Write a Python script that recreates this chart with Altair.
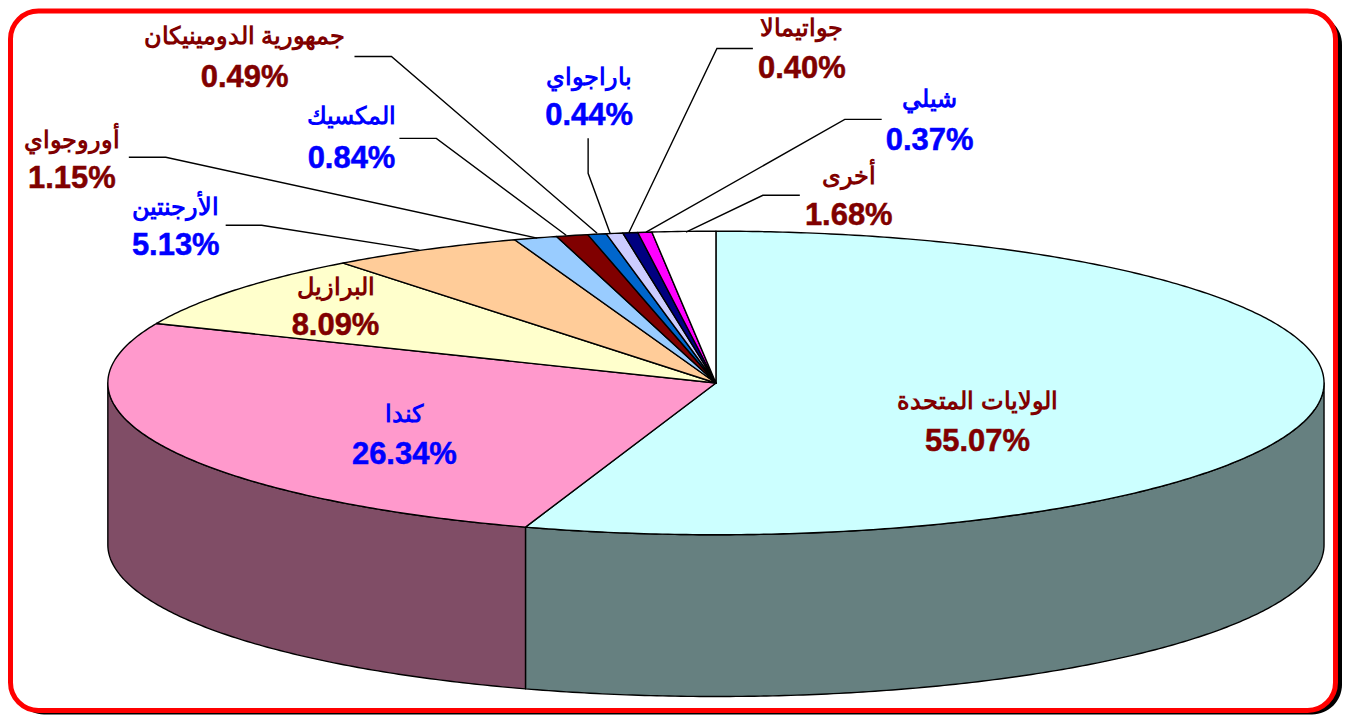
import math
import altair as alt
import pandas as pd

# Data
NAMES = ["الولايات المتحدة", "كندا", "البرازيل", "الأرجنتين", "أوروجواي", "المكسيك",
         "جمهورية الدومينيكان", "باراجواي", "جواتيمالا", "شيلي", "أخرى"]
SHARES = [55.07, 26.34, 8.09, 5.13, 1.15, 0.84, 0.49, 0.44, 0.40, 0.37, 1.68]

# Styles
TOP_COLORS = ["#CCFFFF", "#FF99CC", "#FFFFCC", "#FFCC99", "#99CCFF", "#800000",
              "#0066CC", "#CCCCFF", "#000080", "#FF00FF", "#FFFFFF"]
SIDE_COLORS = {0: "#668080", 1: "#804D66"}
TEXT_COLORS = ["#800000", "#0000FF", "#800000", "#0000FF", "#800000", "#0000FF",
               "#800000", "#0000FF", "#800000", "#0000FF", "#800000"]

# Layout (picture pixels)
CX, CY, RX, RY, DEPTH = 717, 383, 609, 152, 162
LABEL_POS = [(979, 402, 442), (405, 415, 455), (336, 288, 326), (176, 208, 246), (72, 141, 179),
             (352, 117, 159), (245, 37, 78), (590, 78, 116), (803, 29, 69), (931, 100, 141), (850, 177, 216)]
LEADERS = {
    3: [(226, 225), (262, 225), (420, 250)],
    4: [(129, 157), (166, 157), (538, 238)],
    5: [(400, 138), (437, 138), (567, 235)],
    6: [(355, 56), (392, 56), (598, 233)],
    7: [(589, 138), (589, 173), (611, 233)],
    8: [(754, 48), (718, 48), (630, 232)],
    9: [(883, 119), (846, 119), (647, 232)],
    10: [(801, 195), (764, 195), (687, 232)],
}

X0, Y0, X1, Y1 = 8, 8, 1346, 715
sx = alt.Scale(domain=[X0, X1], nice=False, zero=False)
sy = alt.Scale(domain=[Y0, Y1], nice=False, zero=False, reverse=True)
X = lambda f: alt.X(f, scale=sx, axis=None)
Y = lambda f: alt.Y(f, scale=sy, axis=None)


def pt(t, dy=0.0):
    return [CX + RX * math.sin(t), CY - RY * math.cos(t) + dy]


def arc(t0, t1, dy=0.0):
    n = max(2, int(abs(t1 - t0) / 0.01))
    return [pt(t0 + (t1 - t0) * i / n, dy) for i in range(n + 1)]


edges = [0.0]
for s in SHARES:
    edges.append(edges[-1] + s / sum(SHARES) * 2 * math.pi)


def feature(ring, fill):
    return {"type": "Feature", "properties": {"fill": fill},
            "geometry": {"type": "Polygon", "coordinates": [ring + [ring[0]]]}}


tops, sides = [], []
for i, color in enumerate(TOP_COLORS):
    tops.append(feature([[CX, CY]] + arc(edges[i], edges[i + 1]), color))
    lo, hi = max(edges[i], math.pi / 2), min(edges[i + 1], 3 * math.pi / 2)
    if hi > lo and i in SIDE_COLORS:
        sides.append(feature(arc(lo, hi) + arc(hi, lo, DEPTH), SIDE_COLORS[i]))

proj = alt.Projection(type="identity", scale=1, translate=[-X0, -Y0])


def shapes(features, width):
    return alt.Chart(alt.Data(values=features)).mark_geoshape(
        stroke="black", strokeWidth=width, strokeJoin="round"
    ).encode(fill=alt.Fill("properties.fill:N", scale=None)).project(**proj.to_dict())


frame_df = pd.DataFrame([{"x": 10.5, "x2": 1337.5, "y": 10.5, "y2": 711}])
shadow_df = pd.DataFrame([{"x": 14, "x2": 1344, "y": 14, "y2": 715}])
shadow = alt.Chart(shadow_df).mark_rect(fill="black", cornerRadius=30).encode(
    x=X("x:Q"), x2="x2:Q", y=Y("y:Q"), y2="y2:Q")
frame = alt.Chart(frame_df).mark_rect(fill="white", stroke="#FF0000", strokeWidth=5, cornerRadius=28).encode(
    x=X("x:Q"), x2="x2:Q", y=Y("y:Q"), y2="y2:Q")

lead_rows = [{"k": k, "o": j, "x": p[0], "y": p[1]} for k, pts in LEADERS.items() for j, p in enumerate(pts)]
leaders = alt.Chart(pd.DataFrame(lead_rows)).mark_line(color="black", strokeWidth=1.4).encode(
    x=X("x:Q"), y=Y("y:Q"), detail="k:N", order="o:Q")

text_df = pd.DataFrame({
    "name": NAMES,
    "pct": [f"{s:.2f}%" for s in SHARES],
    "color": TEXT_COLORS,
    "x": [p[0] for p in LABEL_POS],
    "yn": [p[1] for p in LABEL_POS],
    "yp": [p[2] for p in LABEL_POS],
})
FONT = "Liberation Sans"
names = alt.Chart(text_df).mark_text(font=FONT, fontWeight="bold", fontSize=24, baseline="middle", align="center").encode(
    x=X("x:Q"), y=Y("yn:Q"), text="name:N", color=alt.Color("color:N", scale=None))
pcts = alt.Chart(text_df).mark_text(font=FONT, fontWeight="bold", fontSize=31, strokeWidth=0.5, baseline="middle", align="center").encode(
    x=X("x:Q"), y=Y("yp:Q"), text="pct:N", color=alt.Color("color:N", scale=None),
    stroke=alt.Stroke("color:N", scale=None))

chart = alt.layer(shadow, frame, shapes(sides, 1.4), shapes(tops, 1.4), leaders, names, pcts).properties(
    width=X1 - X0, height=Y1 - Y0, padding=0,
    autosize=alt.AutoSizeParams(type="none"),
).configure_view(stroke=None)

chart.save("out.html", embed_options={"renderer": "svg", "actions": False})
